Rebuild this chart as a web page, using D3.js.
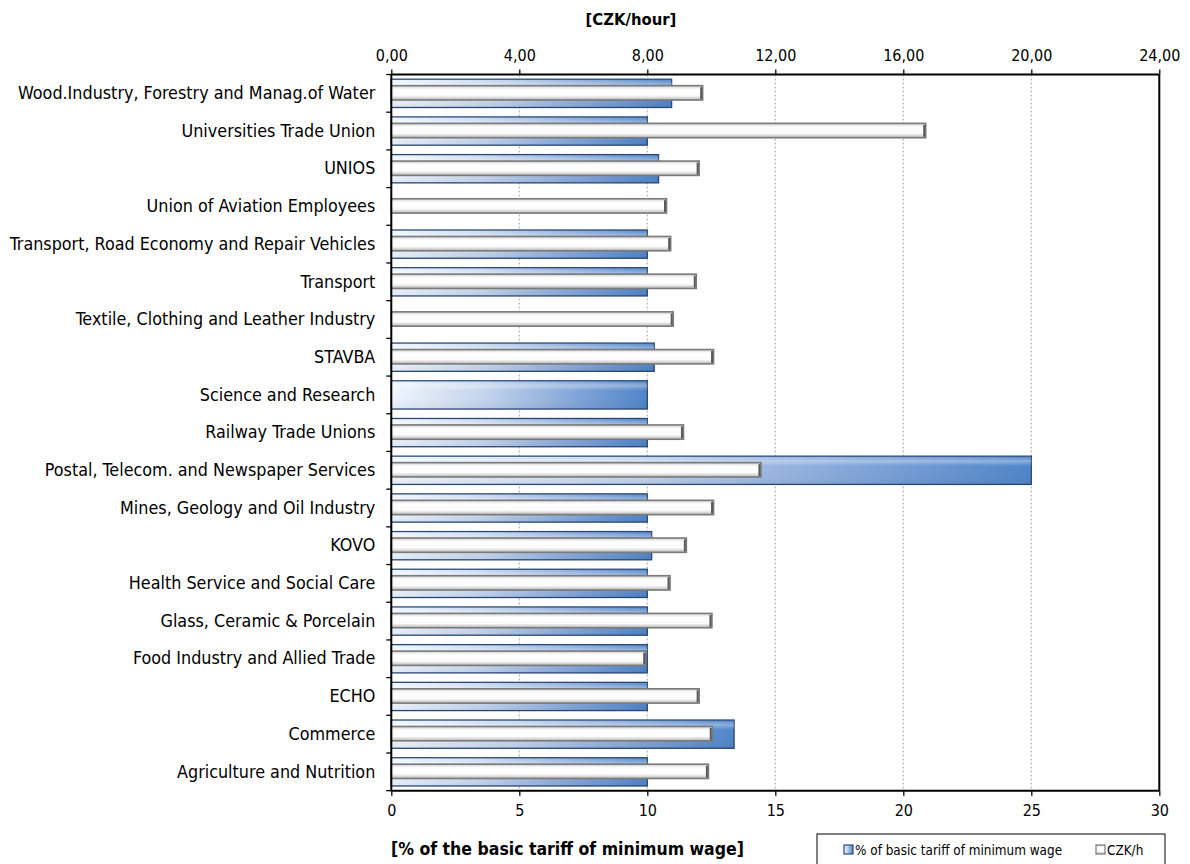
<!DOCTYPE html>
<html>
<head>
<meta charset="utf-8">
<script src="https://cdn.jsdelivr.net/npm/d3@7"></script>
<style>
  html, body { margin: 0; padding: 0; background: #fff; }
  svg { display: block; }
  .lbl { font-family: 'DejaVu Sans Condensed', 'DejaVu Sans', sans-serif; font-stretch: condensed; fill: #000; }
</style>
</head>
<body>
<svg id="chart" width="1190" height="864"></svg>
<script>
const categories = [
  "Wood.Industry, Forestry and Manag.of Water",
  "Universities Trade Union",
  "UNIOS",
  "Union of Aviation Employees",
  "Transport, Road Economy and Repair Vehicles",
  "Transport",
  "Textile, Clothing and Leather Industry",
  "STAVBA",
  "Science and Research",
  "Railway Trade Unions",
  "Postal, Telecom. and Newspaper Services",
  "Mines, Geology and Oil Industry",
  "KOVO",
  "Health Service and Social Care",
  "Glass, Ceramic & Porcelain",
  "Food Industry and Allied Trade",
  "ECHO",
  "Commerce",
  "Agriculture and Nutrition"
];
// % of basic tariff of minimum wage (bottom axis)
const pctValues = [10.95, 10.0, 10.44, null, 10.0, 10.0, null, 10.27, 10.0, 10.0, 25.0, 10.0, 10.17, 10.0, 10.0, 10.0, 10.0, 13.39, 10.0];
// CZK/h (top axis)
const czkValues = [9.73, 16.7, 9.62, 8.6, 8.73, 9.53, 8.81, 10.07, null, 9.13, 11.55, 10.07, 9.22, 8.71, 10.02, 7.95, 9.62, 10.03, 9.91];
const pctTicks = [0, 5, 10, 15, 20, 25, 30];
const czkTicks = [0, 4, 8, 12, 16, 20, 24];
const seriesNames = ["% of basic tariff of minimum wage", "CZK/h"];
const topTitle = "[CZK/hour]";
const bottomTitle = "[% of the basic tariff of minimum wage]";

const svg = d3.select("#chart");
const L = 391.3, R = 1159.3, T = 74.5, B = 790.7;

const xPct = d3.scaleLinear().domain([0, 30]).range([L, R]);
const xCzk = d3.scaleLinear().domain([0, 24]).range([L, R]);
const y = d3.scaleBand().domain(categories).range([T, B]);
const bw = y.bandwidth();

const defs = svg.append("defs");
const gb = defs.append("linearGradient").attr("id", "gBlue").attr("x1", 0).attr("x2", 1).attr("y1", 0).attr("y2", 0);
gb.append("stop").attr("offset", "0%").attr("stop-color", "#eef6fe");
gb.append("stop").attr("offset", "35%").attr("stop-color", "#c6d6ee");
gb.append("stop").attr("offset", "70%").attr("stop-color", "#86a8da");
gb.append("stop").attr("offset", "100%").attr("stop-color", "#4f84c8");
const gbv = defs.append("linearGradient").attr("id", "gBlueHi").attr("x1", 0).attr("x2", 0).attr("y1", 0).attr("y2", 1);
gbv.append("stop").attr("offset", "0%").attr("stop-color", "#ffffff").attr("stop-opacity", 0.0);
gbv.append("stop").attr("offset", "18%").attr("stop-color", "#ffffff").attr("stop-opacity", 0.35);
gbv.append("stop").attr("offset", "35%").attr("stop-color", "#ffffff").attr("stop-opacity", 0.0);
gbv.append("stop").attr("offset", "100%").attr("stop-color", "#000000").attr("stop-opacity", 0.05);
const gw = defs.append("linearGradient").attr("id", "gWhite").attr("x1", 0).attr("x2", 0).attr("y1", 0).attr("y2", 1);
gw.append("stop").attr("offset", "0%").attr("stop-color", "#cfcfcf");
gw.append("stop").attr("offset", "25%").attr("stop-color", "#ffffff");
gw.append("stop").attr("offset", "70%").attr("stop-color", "#fbfbfb");
gw.append("stop").attr("offset", "100%").attr("stop-color", "#b5b5b5");

// gridlines (dashed)
svg.append("g").selectAll("line").data(pctTicks.filter(d => d > 0 && d < 30)).join("line")
  .attr("x1", d => xPct(d)).attr("x2", d => xPct(d))
  .attr("y1", T).attr("y2", B)
  .attr("stroke", "#a8a8a8").attr("stroke-width", 1).attr("stroke-dasharray", "2,2");

// blue bars
const blueH = bw * 0.75;
const bars = svg.append("g");
const pctData = categories.map((c, i) => ({ c, v: pctValues[i] })).filter(d => d.v != null);
bars.selectAll("rect.b").data(pctData).join("rect").attr("class", "b")
  .attr("x", xPct(0)).attr("y", d => y(d.c) + (bw - blueH) / 2)
  .attr("width", d => xPct(d.v) - xPct(0)).attr("height", blueH)
  .attr("fill", "url(#gBlue)").attr("stroke", "#2a4877").attr("stroke-width", 1.3);
bars.selectAll("rect.bh").data(pctData).join("rect").attr("class", "bh")
  .attr("x", xPct(0)).attr("y", d => y(d.c) + (bw - blueH) / 2)
  .attr("width", d => xPct(d.v) - xPct(0)).attr("height", blueH)
  .attr("fill", "url(#gBlueHi)");

// white bars
const whiteH = bw * 0.38;
const czkData = categories.map((c, i) => ({ c, v: czkValues[i] })).filter(d => d.v != null);
bars.selectAll("rect.w").data(czkData).join("rect").attr("class", "w")
  .attr("x", xCzk(0)).attr("y", d => y(d.c) + (bw - whiteH) / 2 - 0.5)
  .attr("width", d => xCzk(d.v) - xCzk(0)).attr("height", whiteH)
  .attr("fill", "url(#gWhite)").attr("stroke", "#7a7a7a").attr("stroke-width", 1.6);
bars.selectAll("line.we").data(czkData).join("line").attr("class", "we")
  .attr("x1", d => xCzk(d.v) - 1.5).attr("x2", d => xCzk(d.v) - 1.5)
  .attr("y1", d => y(d.c) + (bw - whiteH) / 2 + 1)
  .attr("y2", d => y(d.c) + (bw + whiteH) / 2 - 1.5)
  .attr("stroke", "#5a5a5a").attr("stroke-width", 2);

// plot frame (right edge)
svg.append("line").attr("x1", R).attr("x2", R).attr("y1", T).attr("y2", B)
  .attr("stroke", "#000").attr("stroke-width", 2);

// axes
const fontCss = "'DejaVu Sans Condensed', 'DejaVu Sans', sans-serif";
const topAxis = svg.append("g").attr("transform", `translate(0,${T})`)
  .call(d3.axisTop(xCzk).tickValues(czkTicks).tickSize(5).tickPadding(9)
    .tickFormat(d => d3.format(".2f")(d).replace(".", ",")));
const botAxis = svg.append("g").attr("transform", `translate(0,${B})`)
  .call(d3.axisBottom(xPct).tickValues(pctTicks).tickSize(5).tickPadding(9));
const leftAxis = svg.append("g").attr("transform", `translate(${L},0)`)
  .call(d3.axisLeft(y).tickSize(0).tickPadding(16));
// category boundary ticks
svg.append("g").selectAll("line").data(categories).join("line")
  .attr("x1", L - 5).attr("x2", L)
  .attr("y1", d => y(d) + bw).attr("y2", d => y(d) + bw)
  .attr("stroke", "#000").attr("stroke-width", 1.3);
svg.append("line").attr("x1", L - 5).attr("x2", L).attr("y1", T).attr("y2", T)
  .attr("stroke", "#000").attr("stroke-width", 1.3);

[topAxis, botAxis, leftAxis].forEach(g => {
  g.select(".domain").attr("stroke", "#000").attr("stroke-width", 2);
  g.selectAll(".tick line").attr("stroke", "#000").attr("stroke-width", 1.3);
  g.selectAll("text").attr("class", "lbl").attr("font-family", fontCss).attr("font-size", 16).attr("fill", "#000");
});
leftAxis.selectAll("text").attr("font-size", 17.8);
leftAxis.select(".domain").attr("d", `M0,${T}V${B}`);
topAxis.select(".domain").attr("d", `M${L},0H${R}`);
botAxis.select(".domain").attr("d", `M${L},0H${R}`);

// titles
svg.append("text").attr("class", "lbl").attr("x", 631).attr("y", 25)
  .attr("text-anchor", "middle").attr("font-size", 16.5).attr("font-weight", "bold").text(topTitle);
svg.append("text").attr("class", "lbl").attr("x", 391).attr("y", 855)
  .attr("text-anchor", "start").attr("font-size", 17.5).attr("font-weight", "bold").text(bottomTitle);

// legend
const lg = svg.append("g");
lg.append("rect").attr("x", 817).attr("y", 834).attr("width", 348).attr("height", 40)
  .attr("fill", "#fff").attr("stroke", "#000").attr("stroke-width", 1);
const legItems = [
  { name: seriesNames[0], x: 844, fill: "url(#gBlue)", stroke: "#2a4877" },
  { name: seriesNames[1], x: 1096, fill: "url(#gWhite)", stroke: "#7a7a7a" }
];
lg.selectAll("rect.sw").data(legItems).join("rect").attr("class", "sw")
  .attr("x", d => d.x).attr("y", 845).attr("width", 9).attr("height", 9)
  .attr("fill", d => d.fill).attr("stroke", d => d.stroke).attr("stroke-width", 1.2);
lg.selectAll("text").data(legItems).join("text").attr("class", "lbl")
  .attr("x", d => d.x + 11).attr("y", 855).attr("font-size", 13.4).text(d => d.name);
</script>
</body>
</html>
